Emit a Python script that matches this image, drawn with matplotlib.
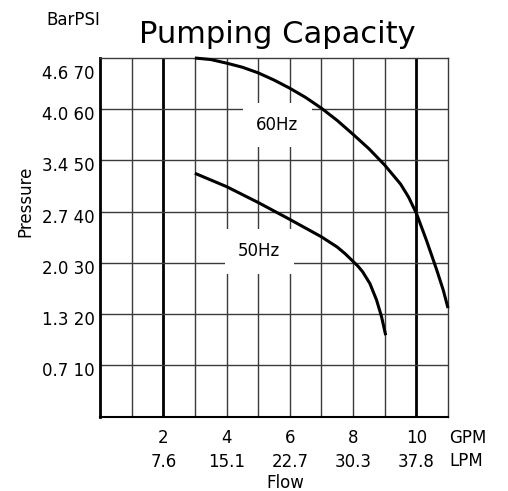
import numpy as np
import matplotlib
matplotlib.use("Agg")
import matplotlib.pyplot as plt
from matplotlib.transforms import blended_transform_factory, offset_copy

# pump curves (flow in GPM, pressure in PSI)
flow_60 = [3.0, 3.5, 4.0, 4.5, 5.0, 5.5, 6.0, 6.5, 7.0, 7.5, 8.0, 8.5, 9.0,
           9.5, 9.75, 10.0, 10.32, 10.64, 10.85, 11.0]
psi_60 = [70.0, 69.7, 69.0, 68.2, 67.1, 65.7, 64.1, 62.3, 60.2, 57.8, 55.1, 52.3, 49.1,
          45.4, 42.9, 39.7, 34.4, 28.7, 24.7, 21.2]
flow_50 = [3.0, 4.0, 5.0, 6.0, 7.0, 7.5, 7.75, 8.0, 8.15, 8.3, 8.53, 8.74, 8.9, 9.03]
psi_50 = [47.5, 44.9, 41.8, 38.5, 35.1, 33.1, 31.8, 30.3, 29.4, 28.3, 26.0, 22.8, 19.5, 15.9]

psi_ticks = [70, 60, 50, 40, 30, 20, 10]
bar_labels = ["4.6", "4.0", "3.4", "2.7", "2.0", "1.3", "0.7"]
gpm_ticks = [2, 4, 6, 8, 10]
lpm_labels = ["7.6", "15.1", "22.7", "30.3", "37.8"]
thick_lines = [2, 10]

W, H = 508, 491
fig = plt.figure(figsize=(W / 100, H / 100), dpi=100)
ax = fig.add_axes([100 / W, (H - 416.7) / H, 348 / W, 358.7 / H])
ax.set_xlim(0, 11)
ax.set_ylim(0, 70)
ax.set_xticks([])
ax.set_yticks([])

# grid
for gx in range(1, 11):
    thick = gx in thick_lines
    ax.axvline(gx, color="black" if thick else "#3a3a3a", lw=2.0 if thick else 1.0, zorder=1)
for gy in psi_ticks[1:]:
    ax.axhline(gy, color="#3a3a3a", lw=1.0, zorder=1)

ax.spines["left"].set_linewidth(2.0)
ax.spines["bottom"].set_linewidth(1.5)
for s in ["top", "right"]:
    ax.spines[s].set_linewidth(1.0)
    ax.spines[s].set_color("#3a3a3a")

# curves
ax.plot(flow_60, psi_60, color="black", lw=2.2, zorder=4, clip_on=False,
        solid_capstyle="butt", solid_joinstyle="round")
ax.plot(flow_50, psi_50, color="black", lw=2.2, zorder=4, clip_on=False,
        solid_capstyle="butt", solid_joinstyle="round")

box = dict(boxstyle="square,pad=0.8", fc="white", ec="none")
ax.text(5.61, 56.9, "60Hz", fontsize=12, ha="center", va="center", bbox=box, zorder=3)
ax.text(5.03, 32.3, "50Hz", fontsize=12, ha="center", va="center", bbox=box, zorder=3)

# y labels: bar + psi, sitting just below each grid line
ytr = blended_transform_factory(ax.transAxes, ax.transData)
for p, b in zip(psi_ticks, bar_labels):
    dy = -21 if p == 70 else -11
    tr = offset_copy(ytr, fig=fig, x=-5, y=dy, units="dots")
    ax.text(0, p, f"{b} {p}", transform=tr, fontsize=12, ha="right", va="baseline")

# x labels: GPM row and LPM row
xtr = blended_transform_factory(ax.transData, ax.transAxes)
for g, l in zip(gpm_ticks, lpm_labels):
    ax.text(g, 0, str(g), transform=offset_copy(xtr, fig=fig, y=-26.5, units="dots"),
            fontsize=12, ha="center", va="baseline")
    ax.text(g, 0, l, transform=offset_copy(xtr, fig=fig, y=-50, units="dots"),
            fontsize=12, ha="center", va="baseline")

fig.text(449 / W, 1 - 443 / H, "GPM", fontsize=12, ha="left", va="baseline")
fig.text(449 / W, 1 - 466.5 / H, "LPM", fontsize=12, ha="left", va="baseline")
fig.text(285 / W, 1 - 488 / H, "Flow", fontsize=12, ha="center", va="baseline")
fig.text(25 / W, 1 - 201 / H, "Pressure", fontsize=12, rotation=90, ha="center", va="center")
fig.text(100 / W, 1 - 25 / H, "BarPSI", fontsize=12, ha="right", va="baseline")
fig.text(277.5 / W, 1 - 43 / H, "Pumping Capacity", fontsize=22, ha="center", va="baseline")

fig.savefig("out.png", dpi=100)
